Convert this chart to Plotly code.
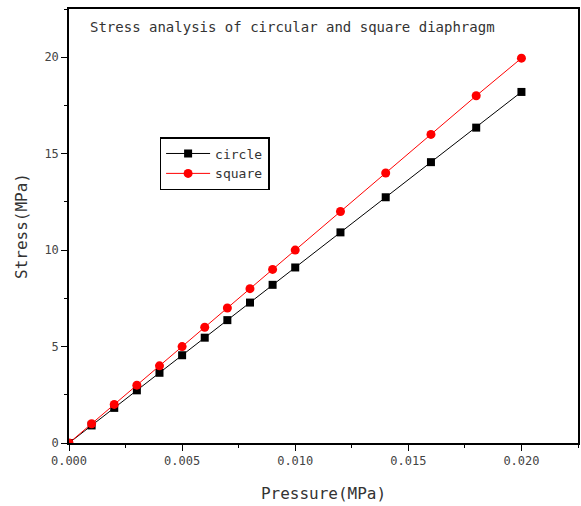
import plotly.graph_objects as go

pressure = [0.0, 0.001, 0.002, 0.003, 0.004, 0.005, 0.006, 0.007, 0.008, 0.009, 0.010,
            0.012, 0.014, 0.016, 0.018, 0.020]
circle = [0.0, 0.91, 1.82, 2.73, 3.64, 4.55, 5.46, 6.37, 7.28, 8.2, 9.1,
          10.92, 12.74, 14.56, 16.35, 18.2]
square = [0.0, 1.0, 2.0, 3.0, 4.0, 5.0, 6.0, 7.0, 8.0, 9.0, 10.0,
          12.0, 14.0, 16.0, 18.0, 19.95]

x_ticks = [0.0, 0.005, 0.010, 0.015, 0.020]
x_ticklabels = ["0.000", "0.005", "0.010", "0.015", "0.020"]
y_ticks = [0, 5, 10, 15, 20]

FONT = "DejaVu Sans Mono"
GRAY = "#444444"

fig = go.Figure()
fig.add_trace(go.Scatter(
    x=pressure, y=circle, name="circle", mode="lines+markers",
    line=dict(color="black", width=1),
    marker=dict(symbol="square", size=8, color="black"),
))
fig.add_trace(go.Scatter(
    x=pressure, y=square, name="square", mode="lines+markers",
    line=dict(color="red", width=1),
    marker=dict(symbol="circle", size=9, color="red"),
))

axis_common = dict(
    showline=True, linecolor="black", linewidth=1.5, mirror=True,
    showgrid=False, zeroline=False, automargin=False,
    ticks="outside", ticklen=6, tickwidth=1.2, tickcolor="black",
    tickfont=dict(family=FONT, size=12, color=GRAY),
)

fig.update_layout(
    width=581, height=506,
    paper_bgcolor="white", plot_bgcolor="white",
    margin=dict(l=69, r=3, t=9, b=63),
    showlegend=True,
    legend=dict(
        x=0.178, y=0.705, xanchor="left", yanchor="top",
        bgcolor="white", bordercolor="black", borderwidth=1.5,
        font=dict(family=FONT, size=13, color="#333333"),
        tracegroupgap=0, itemwidth=44,
    ),
    xaxis=dict(
        range=[0, 0.0225], tickvals=x_ticks, ticktext=x_ticklabels,
        minor=dict(ticks="outside", dtick=0.0025, tick0=0, ticklen=3, tickcolor="black"),
        title=dict(text="Pressure(MPa)", font=dict(family=FONT, size=16, color="#333333"), standoff=21),
        **axis_common,
    ),
    yaxis=dict(
        range=[0, 22.5], tickvals=y_ticks,
        minor=dict(ticks="outside", dtick=2.5, tick0=0, ticklen=3, tickcolor="black"),
        title=dict(text="Stress(MPa)", font=dict(family=FONT, size=16, color="#333333"), standoff=13),
        **axis_common,
    ),
    annotations=[dict(
        text="Stress analysis of circular and square diaphragm",
        xref="paper", yref="paper", x=0.037, y=0.958,
        xanchor="left", yanchor="middle", showarrow=False,
        font=dict(family=FONT, size=14, color="#333333"),
    )],
)

fig.write_html("out.html", config={"displayModeBar": False},
               post_script="document.body.style.margin='0';")
